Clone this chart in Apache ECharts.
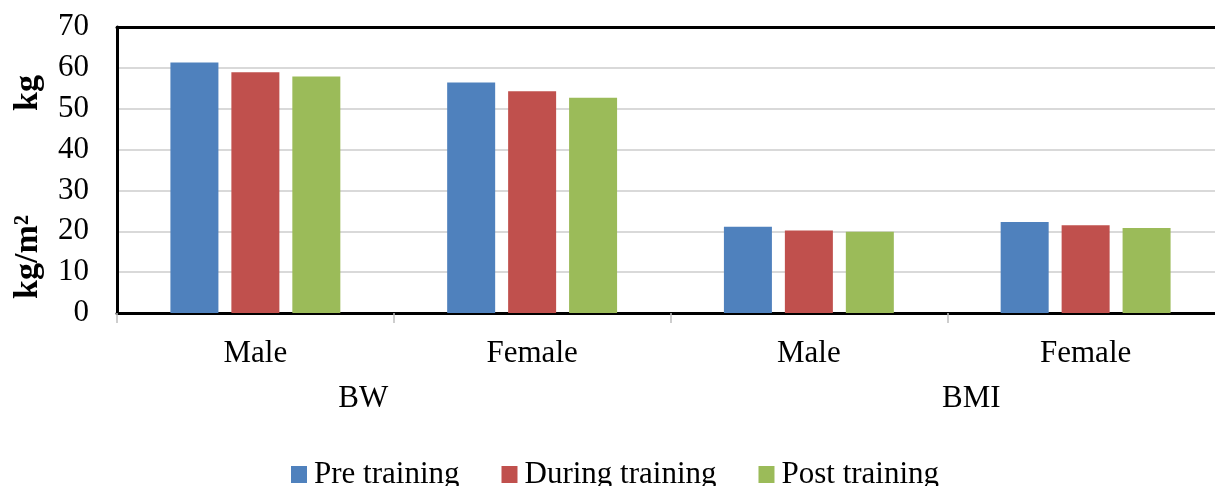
<!DOCTYPE html>
<html><head><meta charset="utf-8">
<script src="https://cdn.jsdelivr.net/npm/echarts@6/dist/echarts.min.js"></script>
<style>html,body{margin:0;padding:0;background:#fff;overflow:hidden}#c{width:1224px;height:486px}</style>
</head><body><div id="c"></div>
<script>
const categories = ['Male', 'Female', 'Male', 'Female'];
const groups = ['BW', 'BMI'];
const seriesNames = ['Pre training', 'During training', 'Post training'];
const preTraining = [61.3, 56.4, 21.1, 22.3];
const duringTraining = [58.9, 54.3, 20.2, 21.5];
const postTraining = [57.9, 52.7, 19.9, 20.8];
const yTitles = ['kg', 'kg/m²'];

const colors = ['#4F81BD', '#C0504D', '#9BBB59'];
const FONT = '"Liberation Serif", "Times New Roman", serif';

const chart = echarts.init(document.getElementById('c'), null, {renderer: 'canvas'});
const mkSeries = (name, data, i) => ({
  name, type: 'bar', data, barWidth: 48, barGap: '27%',
  itemStyle: {color: colors[i]}, xAxisIndex: 0, yAxisIndex: 0
});
chart.setOption({
  animation: false,
  color: colors,
  textStyle: {fontFamily: FONT},
  grid: {left: 117, right: 0, top: 27, bottom: 173},
  xAxis: [{
    type: 'category', data: categories, position: 'bottom',
    axisLine: {show: true, lineStyle: {color: '#000', width: 3}},
    axisTick: {show: true, length: 10, lineStyle: {color: '#BFBFBF', width: 1.5}},
    axisLabel: {fontSize: 31, color: '#000', fontFamily: FONT, margin: 25}
  }, {
    type: 'category', data: groups, position: 'bottom', offset: 70,
    axisLine: {show: false}, axisTick: {show: false},
    axisLabel: {fontSize: 31, color: '#000', fontFamily: FONT, margin: 0,
      formatter: (v, i) => i === 0 ? '{a|' + v + '}' : '{b|' + v + '}',
      rich: {a: {fontSize: 31, fontFamily: FONT, color: '#000', padding: [0, 61, 0, 0]},
             b: {fontSize: 31, fontFamily: FONT, color: '#000', padding: [0, 0, 0, 48]}}}
  }, {
    type: 'category', data: categories, position: 'top',
    axisLine: {show: true, lineStyle: {color: '#000', width: 3}},
    axisTick: {show: false}, axisLabel: {show: false}
  }],
  yAxis: {
    type: 'value', min: 0, max: 70, interval: 10,
    axisLine: {show: true, lineStyle: {color: '#000', width: 3}}, axisTick: {show: false},
    axisLabel: {fontSize: 31, color: '#000', fontFamily: FONT, margin: 28},
    splitLine: {show: true, lineStyle: {color: '#D9D9D9', width: 2}}
  },
  legend: {
    data: seriesNames, left: 291, top: 459, padding: 0, icon: 'rect',
    itemWidth: 16, itemHeight: 17, itemGap: 42,
    textStyle: {fontSize: 31, color: '#000', fontFamily: FONT, padding: [0, 0, 0, 2]}
  },
  graphic: [
    {type: 'text', x: 28, y: 93, rotation: Math.PI / 2,
     style: {text: yTitles[0], font: 'bold 34px ' + FONT, fill: '#000', align: 'center', verticalAlign: 'middle'}},
    {type: 'text', x: 28, y: 257, rotation: Math.PI / 2,
     style: {text: yTitles[1], font: 'bold 34px ' + FONT, fill: '#000', align: 'center', verticalAlign: 'middle'}}
  ],
  series: [
    mkSeries(seriesNames[0], preTraining, 0),
    mkSeries(seriesNames[1], duringTraining, 1),
    mkSeries(seriesNames[2], postTraining, 2)
  ]
});
</script></body></html>
